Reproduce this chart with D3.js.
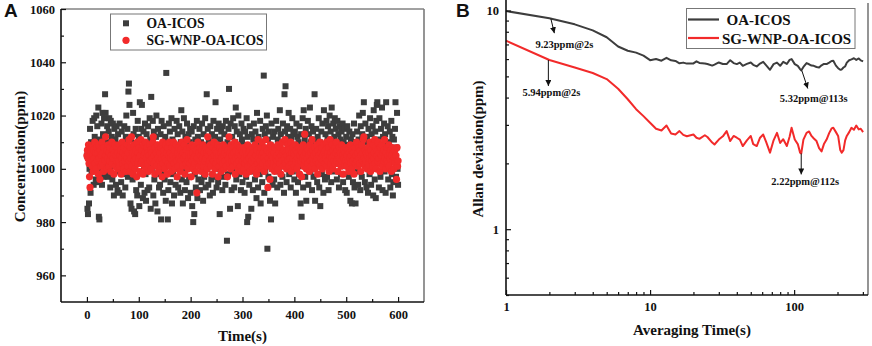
<!DOCTYPE html>
<html><head><meta charset="utf-8">
<script src="https://cdn.jsdelivr.net/npm/d3@7/dist/d3.min.js"></script>
<style>
body{margin:0;background:#fff;}
svg text{font-family:"Liberation Serif","Times New Roman",serif;font-weight:bold;fill:#111;}
</style></head>
<body><svg id="c" width="872" height="346"></svg>
<script>
// ---------- Panel A data ----------
const seriesA = ["OA-ICOS", "SG-WNP-OA-ICOS"];
// concentration (ppm), one value per second, t = 0 ... 600
const oaIcos = [
1005,985,983,1004,987,1000,1015,991,1010,999,1002,1018,1008,994,1019,1012,1003,996,1020,1009,
1016,995,1023,982,981,1011,1000,1006,1017,994,1021,1013,997,1019,1008,1028,1021,999,1002,1016,
1010,997,1014,1019,1005,993,1018,1001,1012,996,1017,1007,990,1015,1002,1011,994,1016,1004,992,
1013,999,991,1017,1006,1009,995,1014,1002,990,1010,998,1016,1005,993,1012,1020,1001,1015,997,
1029,1032,1024,1003,987,1011,985,1007,996,1021,1013,984,1000,983,1015,992,1009,990,1018,1004,
1012,986,1025,1003,994,1015,1024,1008,989,1014,1001,991,1017,998,988,1013,1005,992,1016,1002,
993,1019,1011,985,1027,1000,1009,1018,990,1014,996,1006,987,1012,1020,998,984,1015,1003,993,
1009,994,1013,981,1018,999,1007,991,1016,1004,996,1012,988,1036,1003,1010,981,992,1017,1001,
1014,995,1008,1019,987,1011,998,1006,990,1015,1002,994,1009,1018,997,1013,993,1005,1016,1000,
991,1010,1022,996,1014,987,1008,1019,999,992,1012,1004,995,1017,1001,989,1013,997,1010,1015,
991,1007,1014,986,1002,980,1016,983,998,1011,993,1005,1018,989,1012,996,1008,1015,992,1003,
1010,995,1017,1001,988,1013,997,1006,1019,993,1009,1028,1000,1015,994,1011,1003,990,1016,1007,
996,1013,1002,991,1018,1005,997,1012,1025,1000,993,1015,1008,995,1017,1004,983,1011,999,1014,
1001,992,1016,1008,997,1013,1003,994,1018,1006,973,1010,998,1015,1030,1002,985,1017,1007,992,
1012,999,1019,1004,993,1016,1010,1023,996,1014,1002,986,1020,1008,998,1013,1005,992,1017,1011,
995,1009,1015,1000,991,1014,1006,997,1019,980,1012,982,1008,994,1016,1003,999,985,1013,1007,
992,1011,1017,1004,996,1014,1001,989,1021,1009,993,1012,1005,998,1018,987,1010,1002,995,1015,
1006,1035,991,1013,999,1016,1004,1020,970,1011,997,1014,1003,988,1009,981,1017,1000,994,1012,
1005,996,1014,987,1002,1018,1008,993,1011,1015,999,1006,1022,994,1013,1001,1010,997,1017,1004,
991,1028,1014,1031,1007,995,1016,1003,1012,1021,998,1009,1015,993,1011,1005,1019,999,1013,1002,
996,1014,1008,991,1017,1004,1012,995,1010,998,1016,1001,987,1013,982,1007,1019,993,1022,1005,
1011,997,1015,988,1009,1002,1018,994,1013,1006,1023,999,1010,1016,992,1004,1014,997,1011,1028,
988,1003,1015,1008,995,1012,1001,1019,993,1010,986,1006,1014,998,1017,1003,991,1022,1009,996,
1013,1004,1018,997,1011,1016,992,1008,1020,1002,1014,995,1023,1010,1006,1017,999,1012,1019,1004,
1015,1009,996,1018,1002,1013,993,1016,1007,1011,998,1014,1004,1017,995,1010,1001,1015,992,1008,
1012,991,1016,1003,1009,997,1014,1000,988,1011,1005,987,1013,995,1002,1017,993,1008,987,1010,
999,1014,1006,994,1011,1020,1002,992,1016,1008,997,1013,1021,1004,1025,1010,995,1017,1001,993,
1012,1006,991,1015,1003,998,1019,1009,994,1013,1001,1016,990,1022,1007,996,1014,989,1018,1024,
1025,1004,1011,993,1019,1008,997,1015,1002,1023,992,1012,1006,1017,999,1013,991,1025,1009,1002,
1016,996,1010,1004,1014,993,1007,1018,998,1012,990,995,1011,1003,1015,1025,997,1008,1021,1000,
994];
const sgWnpOaIcos = [
1005,1007,1004,1009,1002,997,993,1006,1003,1008,1001,1005,999,1007,1004,1010,1002,1006,1000,1008,
1003,1006,998,1009,1004,996,1007,1001,1005,1010,1002,1006,999,1008,1004,1003,1012,1005,1000,1007,
1004,1009,1001,1006,1003,1008,999,1005,1010,1002,1007,1004,998,1006,1009,1001,1005,1003,1008,1000,
1006,1003,1009,1001,1005,1007,998,1004,1010,1002,1006,1000,1008,1003,1005,999,1007,1004,1009,1001,
1006,1011,1003,999,1008,1004,1012,1001,1006,998,1009,1003,1005,1000,1007,1004,997,1010,1002,1006,
1004,1008,999,1005,1011,1002,1007,1003,998,1009,1005,1001,1006,1010,1000,1004,1008,1002,1006,999,
1005,1009,1003,1007,1000,1006,1004,1010,1012,1002,1005,998,1008,1003,1006,1001,1009,1004,999,1007,
1003,1006,1001,1008,1004,997,1010,1002,1005,1007,1000,1004,1009,1003,1006,998,1008,1002,1005,1010,
1001,1006,1004,999,1008,1003,1005,1010,1002,1007,1000,1004,1009,1003,997,1006,1001,1008,1004,1005,
999,1007,1003,1010,1005,1001,1006,1004,1009,998,1005,1002,1007,1011,1003,1000,1006,1004,1008,1002,
1005,997,1009,1003,1006,1000,1004,1008,1002,1005,999,1007,991,1004,1010,1002,1006,1001,1008,1003,
1005,999,1007,1004,1009,1001,1006,1003,998,1008,1004,1006,1000,1012,1005,1002,1007,1003,1009,1001,
1006,1004,998,1008,1003,1010,1005,1000,1007,1002,1006,1004,1009,997,1005,1001,1008,1003,1006,999,
1004,1007,1002,1009,1005,1000,1006,1003,1008,1001,1005,997,1007,1004,1012,1002,1006,1000,1009,1003,
1005,1008,1001,1006,1003,1010,998,1004,1007,1002,1009,1005,1000,1006,1003,1008,1001,1005,999,1007,
1003,1006,1000,1008,1004,1002,1007,998,1005,1003,1009,1001,1006,1004,999,1007,1002,1005,1003,1008,
1000,1006,1003,1004,1009,1001,1005,998,1007,1002,1011,1004,1000,1006,1003,1008,1001,1005,1010,1002,
1006,1004,999,1008,1003,1011,1005,1001,1007,993,1004,1002,1006,996,1009,1003,1005,1000,1007,1004,
1002,1006,999,1008,1004,1001,1005,1003,1009,1000,1006,1004,1002,1008,998,1005,1003,1010,1006,1001,
1007,1004,1011,1002,1006,1000,1005,1009,1003,1007,1001,1005,1004,1010,999,1006,1002,1008,1004,1006,
1001,1005,1009,1003,1007,1000,1004,1006,1002,1008,998,1005,1003,1007,997,1006,1004,1009,1001,1005,
1013,1003,1006,1000,1008,1004,1002,1007,1005,999,1009,1003,1006,1001,1011,1004,1007,1002,1005,1008,
1000,1006,1003,1009,1004,998,1007,1002,1005,1010,1001,1006,1004,1008,1000,1005,1003,1009,1006,1002,
1007,1004,1010,1001,1006,1003,1008,999,1005,1011,1002,1006,1004,1009,1000,1007,1003,1005,1008,1002,
1006,1010,1003,1007,999,1005,1002,1008,1004,1006,1001,1009,1003,1005,998,1007,1004,1002,1006,1003,
1008,1001,1005,1007,1003,999,1006,1004,1009,1002,1005,1000,1007,1003,1006,998,1004,1008,1002,1005,
1010,1003,1006,1001,1008,1004,1002,1007,999,1005,1009,1003,1006,1011,1012,1004,1001,1007,1003,1006,
1000,1005,1008,1002,1006,1004,1010,999,1007,1003,1005,1001,1009,1004,1006,1011,1002,1008,1000,1005,
1007,1003,1010,1004,1006,999,1008,1002,1005,1009,1001,1006,1003,1007,1011,1004,1000,1006,1003,1008,
1002,1005,1009,1001,1006,1004,1007,999,1005,1008,1003,1006,1000,1004,1007,1002,1005,996,1008,1001,
1003];
const timeTicksA = [0,100,200,300,400,500,600];
const timeMinorA = [50,150,250,350,450,550];
const concTicksA = [960,980,1000,1020,1040,1060];
const concMinorA = [970,990,1010,1030,1050];

// ---------- Panel B data ----------
const tau = [1,2,3,4,5,6,7,8,9,10,11,12,13,14,15,16,17,18,20,21,22,24,25,27,28,30,32,34,36,38,40,42,44,47,50,52,55,58,61,64,68,72,76,80,84,89,93,96,101,106,110,112,116,122,127,132,137,143,149,155,161,168,175,182,187,195,202,209,214,220,226,232,241,250,260,270,281,290,301];
const allanOa = [9.95,9.23,8.65,8.12,7.55,6.85,6.55,6.42,6.22,5.93,6.00,5.90,6.08,5.92,5.88,5.74,5.78,5.72,5.73,5.86,5.76,5.73,5.70,5.60,5.66,5.79,5.70,5.69,5.93,5.75,5.69,5.78,5.59,5.70,5.79,5.65,5.55,5.72,5.83,5.62,5.36,5.69,5.78,5.59,5.83,5.70,5.95,6.00,5.69,5.58,5.40,5.32,5.52,5.75,5.68,5.60,5.59,5.52,5.49,5.62,5.70,5.69,5.78,5.88,5.89,5.60,5.45,5.36,5.38,5.49,5.55,5.78,5.93,5.98,6.05,5.95,6.04,5.92,5.85];
const allanSg = [7.28,5.94,5.49,5.18,4.86,4.39,3.93,3.54,3.29,3.07,2.88,2.83,2.98,2.74,2.71,2.81,2.70,2.66,2.71,2.62,2.59,2.69,2.64,2.49,2.44,2.57,2.66,2.81,2.53,2.67,2.62,2.57,2.40,2.55,2.67,2.45,2.40,2.62,2.71,2.50,2.24,2.55,2.76,2.48,2.58,2.40,2.65,2.91,2.57,2.45,2.24,2.22,2.57,2.76,2.80,2.67,2.60,2.53,2.35,2.27,2.45,2.57,2.75,2.89,2.91,2.78,2.67,2.30,2.24,2.30,2.55,2.67,2.78,2.91,2.85,2.98,2.86,2.88,2.78];
const tauTicksB = [1,10,100];
const tauMinorB = [2,3,4,5,6,7,8,9,20,30,40,50,60,70,80,90,200,300];
const devTicksB = [1,10];
const devMinorB = [0.5,0.6,0.7,0.8,0.9,2,3,4,5,6,7,8,9];
const notes = [
  {text:"9.23ppm@2s", tau:2, val:9.23},
  {text:"5.94ppm@2s", tau:2, val:5.94},
  {text:"5.32ppm@113s", tau:113, val:5.32},
  {text:"2.22ppm@112s", tau:112, val:2.22}
];

const BLACK = "#3d3d3d", RED = "#f22a2a";
const svg = d3.select("#c");
svg.append("rect").attr("width",872).attr("height",346).attr("fill","#fff");
const defs = svg.append("defs");
defs.append("marker").attr("id","ah").attr("viewBox","0 0 10 10").attr("refX",10).attr("refY",5)
  .attr("markerWidth",6).attr("markerHeight",6).attr("markerUnits","userSpaceOnUse").attr("orient","auto")
  .append("path").attr("d","M0,0L10,5L0,10z").attr("fill","#111");

function styleAxis(g, fs){
  g.select(".domain").remove();
  g.selectAll(".tick line").attr("stroke","#111").attr("stroke-width",1.2);
  g.selectAll(".tick text").attr("font-size",fs).attr("fill","#111");
}

// ================= Panel A =================
{
  const L=61,R=424,T=9,B=302;
  const x = d3.scaleLinear().domain([-50,650]).range([L,R]);
  const y = d3.scaleLinear().domain([950,1060]).range([B,T]);
  const g = svg.append("g");
  g.append("line").attr("x1",L).attr("x2",R).attr("y1",T).attr("y2",T).attr("stroke","#444").attr("stroke-width",1);
  g.append("line").attr("x1",R).attr("x2",R).attr("y1",T).attr("y2",B).attr("stroke","#7a7a7a").attr("stroke-width",1.6);
  const s = 6;
  g.append("g").selectAll("rect").data(oaIcos).join("rect")
    .attr("x",(d,i)=>x(i)-s/2).attr("y",d=>y(d)-s/2).attr("width",s).attr("height",s).attr("fill",BLACK);
  g.append("g").selectAll("circle").data(sgWnpOaIcos).join("circle")
    .attr("cx",(d,i)=>x(i)).attr("cy",d=>y(d)).attr("r",3.6).attr("fill",RED);
  const ax = g.append("g").attr("transform",`translate(0,${B})`)
    .call(d3.axisBottom(x).tickValues(timeTicksA).tickSize(-5).tickPadding(8).tickFormat(d3.format("d")));
  styleAxis(ax,12.5);
  const axm = g.append("g").attr("transform",`translate(0,${B})`)
    .call(d3.axisBottom(x).tickValues(timeMinorA).tickSize(-3).tickFormat(""));
  styleAxis(axm,12);
  const ay = g.append("g").attr("transform",`translate(${L},0)`)
    .call(d3.axisLeft(y).tickValues(concTicksA).tickSize(-5).tickPadding(6).tickFormat(d3.format("d")));
  styleAxis(ay,12.5);
  const aym = g.append("g").attr("transform",`translate(${L},0)`)
    .call(d3.axisLeft(y).tickValues(concMinorA).tickSize(-3).tickFormat(""));
  styleAxis(aym,12);
  g.append("line").attr("x1",L).attr("x2",L).attr("y1",T).attr("y2",B).attr("stroke","#111").attr("stroke-width",1.6);
  g.append("line").attr("x1",L).attr("x2",R).attr("y1",B).attr("y2",B).attr("stroke","#111").attr("stroke-width",1.6);
  g.append("text").attr("x",(x(-50)+x(650))/2).attr("y",341).attr("text-anchor","middle").attr("font-size",15).text("Time(s)");
  g.append("text").attr("transform",`translate(25,${(y(950)+y(1060))/2+1}) rotate(-90)`).attr("text-anchor","middle").attr("font-size",15).text("Concentration(ppm)");
  g.append("rect").attr("x",110.5).attr("y",14).attr("width",156).attr("height",36).attr("fill","#fff").attr("stroke","#777").attr("stroke-width",1);
  g.append("rect").attr("x",126-s/2).attr("y",23.3-s/2).attr("width",s).attr("height",s).attr("fill",BLACK);
  g.append("circle").attr("cx",126).attr("cy",40.3).attr("r",3.6).attr("fill",RED);
  g.append("text").attr("x",146.5).attr("y",28).attr("font-size",13.6).text(seriesA[0]);
  g.append("text").attr("x",146.5).attr("y",45).attr("font-size",13.6).text(seriesA[1]);
  svg.append("text").attr("x",4).attr("y",17).attr("font-size",19).style("font-family","'Liberation Sans',Arial,sans-serif").text("A");
}

// ================= Panel B =================
{
  const L=506,R=868,T=3,B=295;
  const x = d3.scaleLog().domain([1,325.6]).range([L,R]);
  const y = d3.scaleLog().domain([0.5,10.83]).range([B,T]);
  const g = svg.append("g");
  g.append("line").attr("x1",R).attr("x2",R).attr("y1",T).attr("y2",B).attr("stroke","#7a7a7a").attr("stroke-width",1.6);
  const line = d3.line().x((d,i)=>x(tau[i])).y(d=>y(d));
  g.append("path").datum(allanOa).attr("d",line).attr("fill","none").attr("stroke",BLACK).attr("stroke-width",2).attr("stroke-linejoin","round");
  g.append("path").datum(allanSg).attr("d",line).attr("fill","none").attr("stroke",RED).attr("stroke-width",2).attr("stroke-linejoin","round");
  const ax = g.append("g").attr("transform",`translate(0,${B})`)
    .call(d3.axisBottom(x).tickValues(tauTicksB).tickSize(-5).tickPadding(7).tickFormat(d3.format("d")));
  styleAxis(ax,12.5);
  const axm = g.append("g").attr("transform",`translate(0,${B})`)
    .call(d3.axisBottom(x).tickValues(tauMinorB).tickSize(-3).tickFormat(""));
  styleAxis(axm,12);
  const ay = g.append("g").attr("transform",`translate(${L},0)`)
    .call(d3.axisLeft(y).tickValues(devTicksB).tickSize(-5).tickPadding(7).tickFormat(d3.format("d")));
  styleAxis(ay,12.5);
  const aym = g.append("g").attr("transform",`translate(${L},0)`)
    .call(d3.axisLeft(y).tickValues(devMinorB).tickSize(-3).tickFormat(""));
  styleAxis(aym,12);
  g.append("line").attr("x1",L).attr("x2",L).attr("y1",0).attr("y2",B).attr("stroke","#111").attr("stroke-width",1.6);
  g.append("line").attr("x1",L).attr("x2",R).attr("y1",B).attr("y2",B).attr("stroke","#111").attr("stroke-width",1.6);
  g.append("text").attr("x",(L+R)/2+5).attr("y",335).attr("text-anchor","middle").attr("font-size",15).text("Averaging Time(s)");
  g.append("text").attr("transform",`translate(483,149) rotate(-90)`).attr("text-anchor","middle").attr("font-size",15).text("Allan deviation(ppm)");
  const offs = [
    {s:[1.5,0.5], e:[5,15], t:[15,30]},
    {s:[-1,0], e:[-1,26], t:[2,36]},
    {s:[0,0], e:[6,18], t:[12,32]},
    {s:[0,0], e:[0,21], t:[4,32]}
  ];
  notes.forEach((n,i)=>{
    const px=x(n.tau), py=y(n.val), o=offs[i];
    g.append("line").attr("x1",px+o.s[0]).attr("y1",py+o.s[1]).attr("x2",px+o.e[0]).attr("y2",py+o.e[1])
      .attr("stroke","#111").attr("stroke-width",1).attr("marker-end","url(#ah)");
    g.append("text").attr("x",px+o.t[0]).attr("y",py+o.t[1]).attr("text-anchor","middle").attr("font-size",10.5).text(n.text);
  });
  g.append("rect").attr("x",686.5).attr("y",8.5).attr("width",168.5).attr("height",40).attr("fill","#fff").attr("stroke","#777").attr("stroke-width",1);
  g.append("line").attr("x1",688).attr("x2",719).attr("y1",19.5).attr("y2",19.5).attr("stroke",BLACK).attr("stroke-width",2.2);
  g.append("line").attr("x1",688).attr("x2",719).attr("y1",38).attr("y2",38).attr("stroke",RED).attr("stroke-width",2.2);
  g.append("text").attr("x",726.5).attr("y",25).attr("font-size",15).text(seriesA[0]);
  g.append("text").attr("x",722).attr("y",43.5).attr("font-size",15).text(seriesA[1]);
  svg.append("text").attr("x",456).attr("y",17).attr("font-size",19).style("font-family","'Liberation Sans',Arial,sans-serif").text("B");
}
</script></body></html>
